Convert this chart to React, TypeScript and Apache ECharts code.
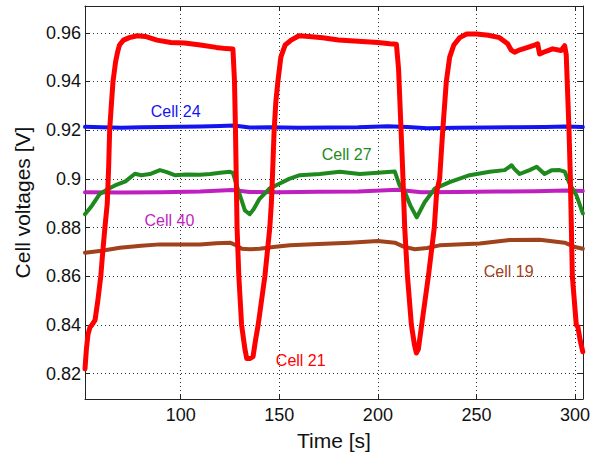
import React, { useEffect, useRef } from "react";
import * as echarts from "echarts";

// ---- data ----
const cell21: [number, number][] = [
  [51.5, 0.822], [52.2, 0.83], [53, 0.836], [54, 0.839], [55, 0.84], [56.6, 0.842], [58, 0.85],
  [59.5, 0.86], [60.5, 0.87], [61.6, 0.88], [62.8, 0.89], [63.5, 0.905], [64, 0.92], [65, 0.932],
  [65.7, 0.94], [67, 0.948], [68, 0.952], [69, 0.955], [71, 0.957], [74, 0.958], [78, 0.9588],
  [82, 0.9585], [88, 0.957], [95, 0.956], [102, 0.9558], [110, 0.955], [118, 0.954], [123, 0.9535],
  [126.5, 0.9533], [127.3, 0.94], [127.8, 0.92], [128.2, 0.9], [128.6, 0.88], [129.5, 0.86],
  [130.9, 0.84], [132.6, 0.83], [133.5, 0.8262], [135, 0.8262], [136.7, 0.827], [138, 0.834],
  [139.3, 0.84], [142.7, 0.86], [145.2, 0.88], [146, 0.89], [146.5, 0.9], [147.4, 0.92],
  [148.3, 0.932], [149.3, 0.94], [150.8, 0.95], [153, 0.955], [156, 0.957], [160, 0.9588],
  [165, 0.9585], [172, 0.958], [180, 0.957], [190, 0.9565], [200, 0.956], [206, 0.9555],
  [209.4, 0.9553], [210.5, 0.945], [211.5, 0.925], [212.5, 0.905], [213.6, 0.88], [215, 0.86],
  [217, 0.84], [218.5, 0.832], [219.5, 0.8285], [220.5, 0.83], [222.2, 0.84], [225.6, 0.86],
  [228.6, 0.88], [229.8, 0.8946], [231.3, 0.9], [232.9, 0.92], [234.7, 0.94], [236.4, 0.95],
  [238.5, 0.955], [241.5, 0.958], [245, 0.9595], [250, 0.9595], [256, 0.959], [261.7, 0.958],
  [265.8, 0.9555], [267.5, 0.953], [269.3, 0.952], [272, 0.953], [276, 0.954], [279, 0.9548],
  [281, 0.9555], [282, 0.9513], [284, 0.952], [288.6, 0.9534], [292.9, 0.9527], [294.7, 0.9547],
  [295.5, 0.951], [296.9, 0.92], [297.6, 0.9], [298.1, 0.88], [298.6, 0.86], [300.6, 0.84],
  [301.4, 0.8392], [302.5, 0.834], [303.9, 0.829],
];

const cell24: [number, number][] = [
  [51.5, 0.9214], [60, 0.9212], [70, 0.921], [80, 0.9212], [90, 0.9213], [100, 0.9214],
  [110, 0.9215], [120, 0.9217], [127, 0.9219], [135, 0.9211], [145, 0.9212], [160, 0.921],
  [175, 0.9211], [190, 0.9212], [205, 0.9216], [215, 0.9213], [225, 0.9208], [240, 0.921],
  [255, 0.9211], [270, 0.9212], [285, 0.9213], [295, 0.9215], [303.9, 0.9213],
];

const cell40: [number, number][] = [
  [51.5, 0.8945], [70, 0.8944], [90, 0.8945], [110, 0.8948], [126, 0.8954], [135, 0.8946],
  [150, 0.8945], [170, 0.8947], [190, 0.8948], [210, 0.8955], [222, 0.8945], [240, 0.8946],
  [260, 0.8948], [280, 0.8949], [295, 0.8952], [303.9, 0.895],
];

const cell27: [number, number][] = [
  [51.5, 0.8855], [55, 0.889], [59, 0.8938], [63, 0.8958], [66.7, 0.8973], [72, 0.899],
  [76.8, 0.9021], [80, 0.9015], [84.4, 0.902], [89.5, 0.9036], [93, 0.9028], [97, 0.9015],
  [103, 0.9018], [109.8, 0.9017], [115, 0.902], [120, 0.9025], [125, 0.9029], [126.5, 0.9025],
  [128.5, 0.897], [131, 0.891], [132.6, 0.887], [135, 0.8855], [137, 0.8875], [140, 0.8918],
  [145, 0.896], [150, 0.898], [155, 0.9], [160.4, 0.9015], [170.5, 0.902], [180.7, 0.9029],
  [190.8, 0.902], [200, 0.9025], [208.6, 0.903], [211, 0.8973], [213.6, 0.8948], [216.5, 0.889],
  [219.7, 0.8842], [223.7, 0.8904], [228.8, 0.896], [236.4, 0.8987], [246.5, 0.9015],
  [256.7, 0.9029], [264.3, 0.9036], [267.8, 0.9056], [269.3, 0.904], [271.9, 0.902],
  [276.9, 0.9036], [280.5, 0.905], [284.5, 0.902], [288, 0.9035], [292.1, 0.9036],
  [294.7, 0.903], [297.2, 0.898], [300.7, 0.8932], [303.9, 0.8858],
];

const cell19: [number, number][] = [
  [51.5, 0.8697], [60, 0.8705], [69.2, 0.8717], [80, 0.8725], [89.5, 0.8731], [100, 0.873],
  [109.8, 0.8731], [118, 0.8736], [125, 0.8738], [128, 0.8728], [131, 0.8713], [135, 0.8711],
  [140, 0.8713], [147, 0.872], [155.4, 0.8727], [170, 0.8733], [185.7, 0.8738], [200, 0.8745],
  [208.6, 0.8738], [213, 0.8722], [218.7, 0.8711], [225, 0.8716], [231.3, 0.8727],
  [251.6, 0.8735], [266.8, 0.8749], [282, 0.875], [294.7, 0.8738], [300, 0.872], [303.9, 0.8713],
];

// label anchor positions [time, voltage]
const labelCell24: [number, number] = [97.5, 0.9278];
const labelCell27: [number, number] = [184.2, 0.9099];
const labelCell40: [number, number] = [94.3, 0.8829];
const labelCell19: [number, number] = [266.3, 0.8618];
const labelCell21: [number, number] = [160.9, 0.8254];

const xRange: [number, number] = [51.5, 304];
const yRange: [number, number] = [0.8096, 0.971];

const FONT = 'Arial, "Liberation Sans", Helvetica, sans-serif';

function isMultiple(v: number, step: number) {
  const q = v / step;
  return Math.abs(q - Math.round(q)) < 1e-6;
}

function makeSeries(name: string, data: [number, number][], color: string, width: number, label: [number, number], z: number) {
  return {
    name,
    type: "line",
    data,
    showSymbol: false,
    symbol: "none",
    z,
    lineStyle: { color, width, join: "round", cap: "round" },
    markPoint: {
      symbol: "circle",
      symbolSize: 1,
      itemStyle: { color: "rgba(0,0,0,0)" },
      silent: true,
      label: {
        show: true,
        position: "inside",
        formatter: name,
        color,
        fontSize: 16,
        fontFamily: FONT,
      },
      data: [{ coord: label }],
    },
  };
}

export default function App() {
  const ref = useRef<HTMLDivElement>(null);
  useEffect(() => {
    if (!ref.current) return;
    const chart = echarts.init(ref.current, undefined, { renderer: "svg" });
    const axisLine = { show: true, lineStyle: { color: "#222", width: 1 } };
    const tick = { show: true, inside: true, length: 5, lineStyle: { color: "#222", width: 1 } };
    const grid = { show: true, lineStyle: { color: "#333", width: 1, type: [1, 3] } };
    chart.setOption({
      animation: false,
      backgroundColor: "#fff",
      grid: { left: 85, right: 18, top: 6, bottom: 57, containLabel: false },
      xAxis: [
        {
          type: "value",
          min: xRange[0],
          max: xRange[1],
          splitNumber: 5,
          axisLine,
          axisTick: tick,
          splitLine: grid,
          axisLabel: {
            show: true,
            color: "#111",
            fontSize: 18,
            fontFamily: FONT,
            margin: 7,
            showMinLabel: false,
            showMaxLabel: false,
            formatter: (v: number) => (isMultiple(v, 50) ? String(Math.round(v)) : ""),
          },
          name: "Time [s]",
          nameLocation: "middle",
          nameGap: 31,
          nameTextStyle: { color: "#111", fontSize: 21, fontFamily: FONT },
        },
        {
          type: "value",
          position: "top",
          min: xRange[0],
          max: xRange[1],
          splitNumber: 5,
          axisLine,
          axisTick: tick,
          splitLine: { show: false },
          axisLabel: { show: false },
        },
      ],
      yAxis: [
        {
          type: "value",
          min: yRange[0],
          max: yRange[1],
          splitNumber: 8,
          axisLine,
          axisTick: tick,
          splitLine: grid,
          axisLabel: {
            show: true,
            color: "#111",
            fontSize: 18,
            fontFamily: FONT,
            margin: 4,
            showMinLabel: false,
            showMaxLabel: false,
            formatter: (v: number) => (isMultiple(v, 0.02) ? String(+v.toFixed(2)) : ""),
          },
          name: "Cell voltages [V]",
          nameLocation: "middle",
          nameGap: 52,
          nameRotate: 90,
          nameTextStyle: { color: "#111", fontSize: 21, fontFamily: FONT },
        },
        {
          type: "value",
          position: "right",
          min: yRange[0],
          max: yRange[1],
          splitNumber: 8,
          axisLine,
          axisTick: tick,
          splitLine: { show: false },
          axisLabel: { show: false },
        },
      ],
      series: [
        makeSeries("Cell 19", cell19, "#a0421c", 4, labelCell19, 2),
        makeSeries("Cell 40", cell40, "#bf1fbf", 4, labelCell40, 3),
        makeSeries("Cell 27", cell27, "#1e8a1e", 4, labelCell27, 4),
        makeSeries("Cell 24", cell24, "#1414f0", 4, labelCell24, 5),
        makeSeries("Cell 21", cell21, "#ff0000", 5, labelCell21, 6),
      ],
    });
    return () => chart.dispose();
  }, []);
  return (
    <div
      ref={ref}
      style={{ position: "fixed", left: 0, top: 0, width: 601, height: 456, background: "#fff" }}
    />
  );
}
